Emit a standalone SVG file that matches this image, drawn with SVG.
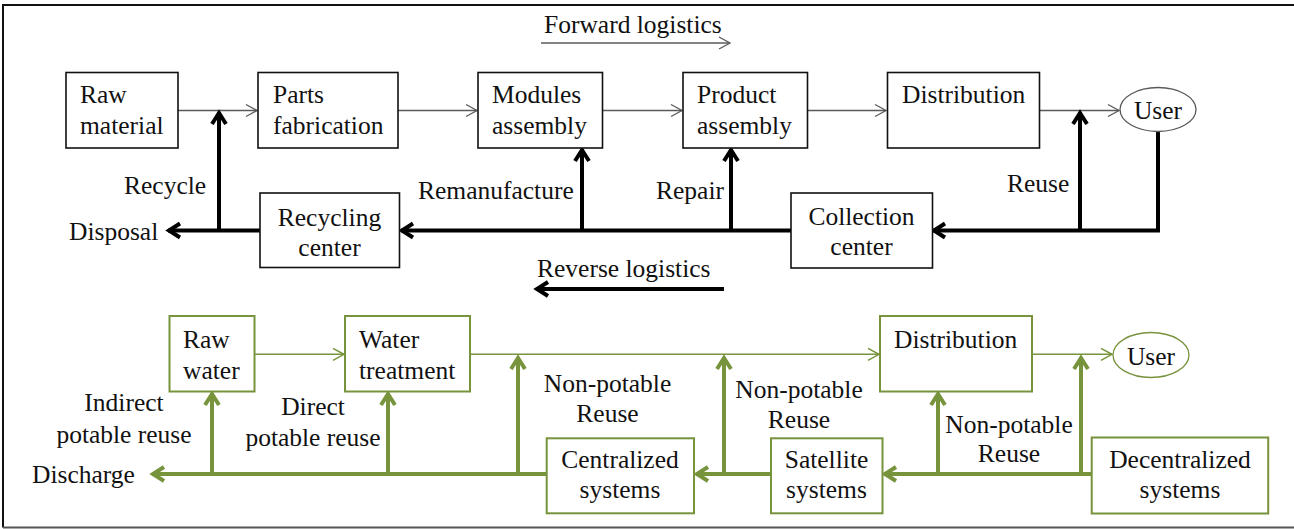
<svg xmlns="http://www.w3.org/2000/svg" width="1294" height="529" viewBox="0 0 1294 529">
<style>
text{font-family:"Liberation Serif","Times New Roman",Tinos,"DejaVu Serif",serif;font-size:25.5px;fill:#111}
.c{text-anchor:middle}
.bx{fill:#fff;stroke:#111;stroke-width:1.6}
.gbx{fill:#fff;stroke:#77933C;stroke-width:2}
.thin{fill:none;stroke:#5a5a5a;stroke-width:1.3}
.thick{fill:none;stroke:#000;stroke-width:4}
.gthin{fill:none;stroke:#77933C;stroke-width:1.5}
.gthick{fill:none;stroke:#77933C;stroke-width:4}
</style>
<defs>
<marker id="aThin" markerUnits="userSpaceOnUse" markerWidth="20" markerHeight="20" orient="auto" overflow="visible">
<path d="M-11,-6 L0,0 L-11,6" fill="none" stroke="#5a5a5a" stroke-width="1.3"/>
</marker>
<marker id="aThick" markerUnits="userSpaceOnUse" markerWidth="20" markerHeight="20" orient="auto" overflow="visible">
<path d="M-12,-7 L-1,0 L-12,7" fill="none" stroke="#000" stroke-width="4"/>
</marker>
<marker id="gThin" markerUnits="userSpaceOnUse" markerWidth="20" markerHeight="20" orient="auto" overflow="visible">
<path d="M-11,-6 L0,0 L-11,6" fill="none" stroke="#77933C" stroke-width="1.5"/>
</marker>
<marker id="gThick" markerUnits="userSpaceOnUse" markerWidth="20" markerHeight="20" orient="auto" overflow="visible">
<path d="M-12,-7 L-1,0 L-12,7" fill="none" stroke="#77933C" stroke-width="4"/>
</marker>
</defs>
<rect width="1294" height="529" fill="#fff"/>
<g id="frame">
<path d="M1294,5 H3 V527.5" fill="none" stroke="#111" stroke-width="2"/>
<path d="M3,527.5 H1294" fill="none" stroke="#555" stroke-width="2"/>
</g>

<g id="connectors">
<line class="thin" x1="541" y1="43" x2="730" y2="43" marker-end="url(#aThin)"/>
<line class="thick" x1="724" y1="289" x2="536" y2="289" marker-end="url(#aThick)"/>
<line class="thin" x1="178" y1="110.5" x2="257" y2="110.5" marker-end="url(#aThin)"/>
<line class="thin" x1="398" y1="110.5" x2="477" y2="110.5" marker-end="url(#aThin)"/>
<line class="thin" x1="602" y1="110.5" x2="682" y2="110.5" marker-end="url(#aThin)"/>
<line class="thin" x1="807" y1="110.5" x2="886" y2="110.5" marker-end="url(#aThin)"/>
<line class="thin" x1="1040" y1="110.5" x2="1119" y2="110.5" marker-end="url(#aThin)"/>
<path class="thick" d="M1158,131.5 V230.5 H933" marker-end="url(#aThick)"/>
<line class="thick" x1="1080" y1="230.5" x2="1080" y2="112" marker-end="url(#aThick)"/>
<line class="thick" x1="791" y1="230.5" x2="401" y2="230.5" marker-end="url(#aThick)"/>
<line class="thick" x1="731" y1="230.5" x2="731" y2="149" marker-end="url(#aThick)"/>
<line class="thick" x1="582" y1="230.5" x2="582" y2="149" marker-end="url(#aThick)"/>
<line class="thick" x1="260" y1="230.5" x2="168" y2="230.5" marker-end="url(#aThick)"/>
<line class="thick" x1="219" y1="230.5" x2="219" y2="112" marker-end="url(#aThick)"/>
<line class="gthin" x1="254" y1="354.3" x2="344" y2="354.3" marker-end="url(#gThin)"/>
<line class="gthin" x1="470" y1="354.3" x2="879" y2="354.3" marker-end="url(#gThin)"/>
<line class="gthin" x1="1032" y1="354.3" x2="1112" y2="354.3" marker-end="url(#gThin)"/>
<line class="gthick" x1="1092" y1="474" x2="884" y2="474" marker-end="url(#gThick)"/>
<line class="gthick" x1="1081" y1="474" x2="1081" y2="357" marker-end="url(#gThick)"/>
<line class="gthick" x1="938" y1="474" x2="938" y2="393" marker-end="url(#gThick)"/>
<line class="gthick" x1="771" y1="474" x2="696" y2="474" marker-end="url(#gThick)"/>
<line class="gthick" x1="724" y1="474" x2="724" y2="357" marker-end="url(#gThick)"/>
<line class="gthick" x1="547" y1="474" x2="152" y2="474" marker-end="url(#gThick)"/>
<line class="gthick" x1="518" y1="474" x2="518" y2="357" marker-end="url(#gThick)"/>
<line class="gthick" x1="388" y1="474" x2="388" y2="393" marker-end="url(#gThick)"/>
<line class="gthick" x1="212" y1="474" x2="212" y2="393" marker-end="url(#gThick)"/>
</g>

<g id="labels">
<text x="544" y="33">Forward logistics</text>
<text x="537" y="277">Reverse logistics</text>
<text x="124" y="194">Recycle</text>
<text x="69" y="240">Disposal</text>
<text x="418" y="199">Remanufacture</text>
<text x="656" y="199">Repair</text>
<text x="1007" y="192">Reuse</text>
<text class="c" x="124" y="411">Indirect</text>
<text class="c" x="124" y="443">potable reuse</text>
<text class="c" x="313" y="415">Direct</text>
<text class="c" x="313" y="446">potable reuse</text>
<text x="32" y="483">Discharge</text>
<text class="c" x="607.5" y="392">Non-potable</text>
<text class="c" x="607.5" y="422">Reuse</text>
<text class="c" x="799" y="398">Non-potable</text>
<text class="c" x="799" y="428">Reuse</text>
<text class="c" x="1009" y="433">Non-potable</text>
<text class="c" x="1009" y="462">Reuse</text>
</g>

<g id="raw-material"><rect class="bx" x="66" y="72.5" width="112" height="75.5"/><text x="80" y="103">Raw</text><text x="80" y="134">material</text></g>
<g id="parts-fabrication"><rect class="bx" x="258" y="72.5" width="140" height="75.5"/><text x="273" y="103">Parts</text><text x="273" y="134">fabrication</text></g>
<g id="modules-assembly"><rect class="bx" x="478" y="72.5" width="124.5" height="75.5"/><text x="492" y="103">Modules</text><text x="492" y="134">assembly</text></g>
<g id="product-assembly"><rect class="bx" x="683" y="72.5" width="124.5" height="75.5"/><text x="697" y="103">Product</text><text x="697" y="134">assembly</text></g>
<g id="distribution"><rect class="bx" x="887.5" y="72.5" width="152" height="75.5"/><text x="902" y="103">Distribution</text></g>
<g id="user"><ellipse cx="1158" cy="109.5" rx="38" ry="22" fill="#fff" stroke="#5a5a5a" stroke-width="1.3"/><text class="c" x="1158" y="119">User</text></g>
<g id="recycling-center"><rect class="bx" x="260" y="193" width="139.5" height="74.5"/><text class="c" x="329.5" y="226">Recycling</text><text class="c" x="329.5" y="256">center</text></g>
<g id="collection-center"><rect class="bx" x="791" y="193" width="141.5" height="75"/><text class="c" x="861.5" y="225">Collection</text><text class="c" x="861.5" y="255">center</text></g>

<g id="raw-water"><rect class="gbx" x="169.5" y="316" width="85" height="75.5"/><text x="183" y="348">Raw</text><text x="183" y="379">water</text></g>
<g id="water-treatment"><rect class="gbx" x="345" y="316" width="125" height="75.5"/><text x="359" y="348">Water</text><text x="359" y="379">treatment</text></g>
<g id="water-distribution"><rect class="gbx" x="880" y="316" width="152" height="75.5"/><text x="894" y="348">Distribution</text></g>
<g id="water-user"><ellipse cx="1151" cy="355" rx="38" ry="22.5" fill="#fff" stroke="#77933C" stroke-width="1.3"/><text class="c" x="1151" y="365">User</text></g>
<g id="centralized-systems"><rect class="gbx" x="546.7" y="438.3" width="147.3" height="75"/><text class="c" x="620" y="468">Centralized</text><text class="c" x="620" y="498">systems</text></g>
<g id="satellite-systems"><rect class="gbx" x="771" y="438.3" width="111.5" height="75"/><text class="c" x="826.5" y="468">Satellite</text><text class="c" x="826.5" y="498">systems</text></g>
<g id="decentralized-systems"><rect class="gbx" x="1091.7" y="437.5" width="176.5" height="76"/><text class="c" x="1180" y="468">Decentralized</text><text class="c" x="1180" y="498">systems</text></g>
</svg>
